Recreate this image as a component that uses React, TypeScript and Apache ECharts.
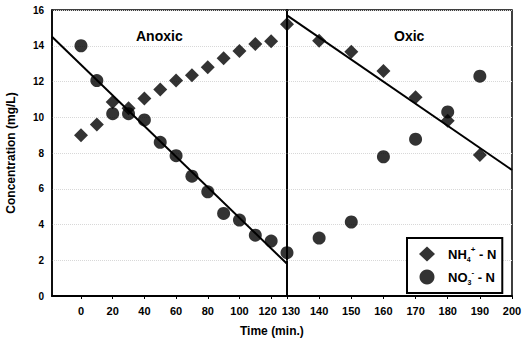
import React, { useEffect, useRef } from "react";
import * as echarts from "echarts";

const anoxicTime = [0, 10, 20, 30, 40, 50, 60, 70, 80, 90, 100, 110, 120, 130];
const anoxicNH4 = [9.0, 9.6, 10.85, 10.5, 11.05, 11.55, 12.05, 12.35, 12.8, 13.3, 13.7, 14.1, 14.25, 15.2];
const anoxicNO3 = [14.0, 12.05, 10.2, 10.2, 9.85, 8.6, 7.85, 6.7, 5.83, 4.62, 4.25, 3.4, 3.07, 2.42];
const oxicTime = [140, 150, 160, 170, 180, 190];
const oxicNH4 = [14.28, 13.67, 12.59, 11.12, 9.8, 7.89];
const oxicNO3 = [3.24, 4.14, 7.79, 8.77, 10.3, 12.3];
const anoxicFitX = [-18.3, 130];
const anoxicFitY = [14.5, 1.8];
const oxicFitX = [130, 200];
const oxicFitY = [15.7, 7.05];
const anoxicTicks = [0, 20, 40, 60, 80, 100, 120];
const oxicTicks = [130, 140, 150, 160, 170, 180, 190, 200];
const NH4 = "NH4+ - N";
const NO3 = "NO3- - N";

const FONT = "Liberation Sans";

export default function App() {
  const ref = useRef<HTMLDivElement>(null);
  useEffect(() => {
    const chart = echarts.init(ref.current!, null, { renderer: "svg" });
    const zip = (xs: number[], ys: number[]) => xs.map((x, i) => [x, ys[i]]);
    const labelStyle = { fontFamily: FONT, fontWeight: "bold" as const, fontSize: 11, color: "#000" };
    const tickRich = {
      l: { ...labelStyle, padding: [0, 7, 0, 0] },
      r: { ...labelStyle, padding: [0, 0, 0, 8] },
    };
    const mkX = (idx: number, min: number, max: number, ticks: number[]) => ({
      type: "value",
      gridIndex: idx,
      min,
      max,
      axisLine: { show: true, onZero: false, lineStyle: { color: "#000", width: 2 } },
      axisTick: { show: true, customValues: ticks, length: 3, lineStyle: { color: "#000" } },
      axisLabel: {
        ...labelStyle,
        customValues: ticks,
        margin: 9,
        showMinLabel: true,
        showMaxLabel: true,
        rich: tickRich,
        formatter: (v: number) => (v === 120 ? "{l|120}" : v === 130 ? "{r|130}" : String(v)),
      },
      splitLine: { show: false },
    });
    const mkY = (idx: number, showLabel: boolean) => ({
      type: "value",
      gridIndex: idx,
      min: 0,
      max: 16,
      interval: 2,
      axisLine: { show: true, onZero: false, lineStyle: { color: "#000", width: 1.5 } },
      axisTick: { show: false },
      axisLabel: { ...labelStyle, show: showLabel, fontSize: 10, margin: 8 },
      splitLine: { show: true, lineStyle: { color: "#d8d8d8", type: "dotted", width: 1 } },
    });
    const diamond = { symbol: "diamond", symbolSize: 14, itemStyle: { color: "#000" } };
    const circle = { symbol: "circle", symbolSize: 13, itemStyle: { color: "#000" } };
    const fitLine = {
      type: "line",
      showSymbol: false,
      symbol: "none",
      lineStyle: { color: "#000", width: 2 },
      silent: true,
    };
    const base = { fontFamily: FONT, fontWeight: "bold", color: "#000", lineHeight: 18 };
    chart.setOption({
      animation: false,
      backgroundColor: "#fff",
      grid: [
        { left: 52, top: 10, width: 235, height: 286, show: true, borderColor: "#000", borderWidth: 1.5 },
        { left: 287, top: 10, width: 225, height: 286, show: true, borderColor: "#000", borderWidth: 1.5 },
      ],
      xAxis: [mkX(0, -18.3, 130, anoxicTicks), mkX(1, 130, 200, oxicTicks)],
      yAxis: [mkY(0, true), mkY(1, false)],
      legend: {
        show: true,
        orient: "vertical",
        left: 407,
        top: 238,
        width: 106,
        height: 58,
        padding: [7, 6, 7, 12],
        itemGap: 5,
        itemWidth: 16,
        itemHeight: 15,
        borderColor: "#000",
        borderWidth: 2,
        backgroundColor: "#fff",
        data: [
          { name: NH4, icon: "diamond" },
          { name: NO3, icon: "circle" },
        ],
        formatter: (name: string) =>
          name === NH4 ? "{g|}{b|NH}{sb|4}{sp|+}{b| - N}" : "{g|}{b|NO}{sb|3}{sp|-}{b| - N}",
        textStyle: {
          fontFamily: FONT,
          fontWeight: "bold",
          fontSize: 13,
          color: "#000",
          rich: {
            g: { width: 8 },
            b: { ...base, fontSize: 13 },
            sb: { ...base, fontSize: 7, verticalAlign: "bottom" },
            sp: { ...base, fontSize: 8, verticalAlign: "top" },
          },
        },
      },
      graphic: [
        { type: "text", left: 136, top: 29, style: { text: "Anoxic", fontFamily: FONT, fontWeight: "bold", fontSize: 14, fill: "#000" } },
        { type: "text", left: 394, top: 29, style: { text: "Oxic", fontFamily: FONT, fontWeight: "bold", fontSize: 14, fill: "#000" } },
        { type: "text", left: 240, top: 325, style: { text: "Time (min.)", fontFamily: FONT, fontWeight: "bold", fontSize: 12, fill: "#000" } },
        {
          type: "text",
          x: 11,
          y: 153,
          rotation: Math.PI / 2,
          style: { text: "Concentration (mg/L)", fontFamily: FONT, fontWeight: "bold", fontSize: 12, fill: "#000", align: "center", verticalAlign: "middle" },
        },
      ],
      series: [
        { name: NH4, type: "scatter", xAxisIndex: 0, yAxisIndex: 0, data: zip(anoxicTime, anoxicNH4), ...diamond },
        { name: NO3, type: "scatter", xAxisIndex: 0, yAxisIndex: 0, data: zip(anoxicTime, anoxicNO3), ...circle },
        { name: "fit1", xAxisIndex: 0, yAxisIndex: 0, data: zip(anoxicFitX, anoxicFitY), ...fitLine },
        { name: NH4, type: "scatter", xAxisIndex: 1, yAxisIndex: 1, data: zip(oxicTime, oxicNH4), ...diamond },
        { name: NO3, type: "scatter", xAxisIndex: 1, yAxisIndex: 1, data: zip(oxicTime, oxicNO3), ...circle },
        { name: "fit2", xAxisIndex: 1, yAxisIndex: 1, data: zip(oxicFitX, oxicFitY), ...fitLine },
      ],
    });
    return () => chart.dispose();
  }, []);
  return <div ref={ref} style={{ width: 527, height: 342, position: "absolute", left: 0, top: 0 }} />;
}
